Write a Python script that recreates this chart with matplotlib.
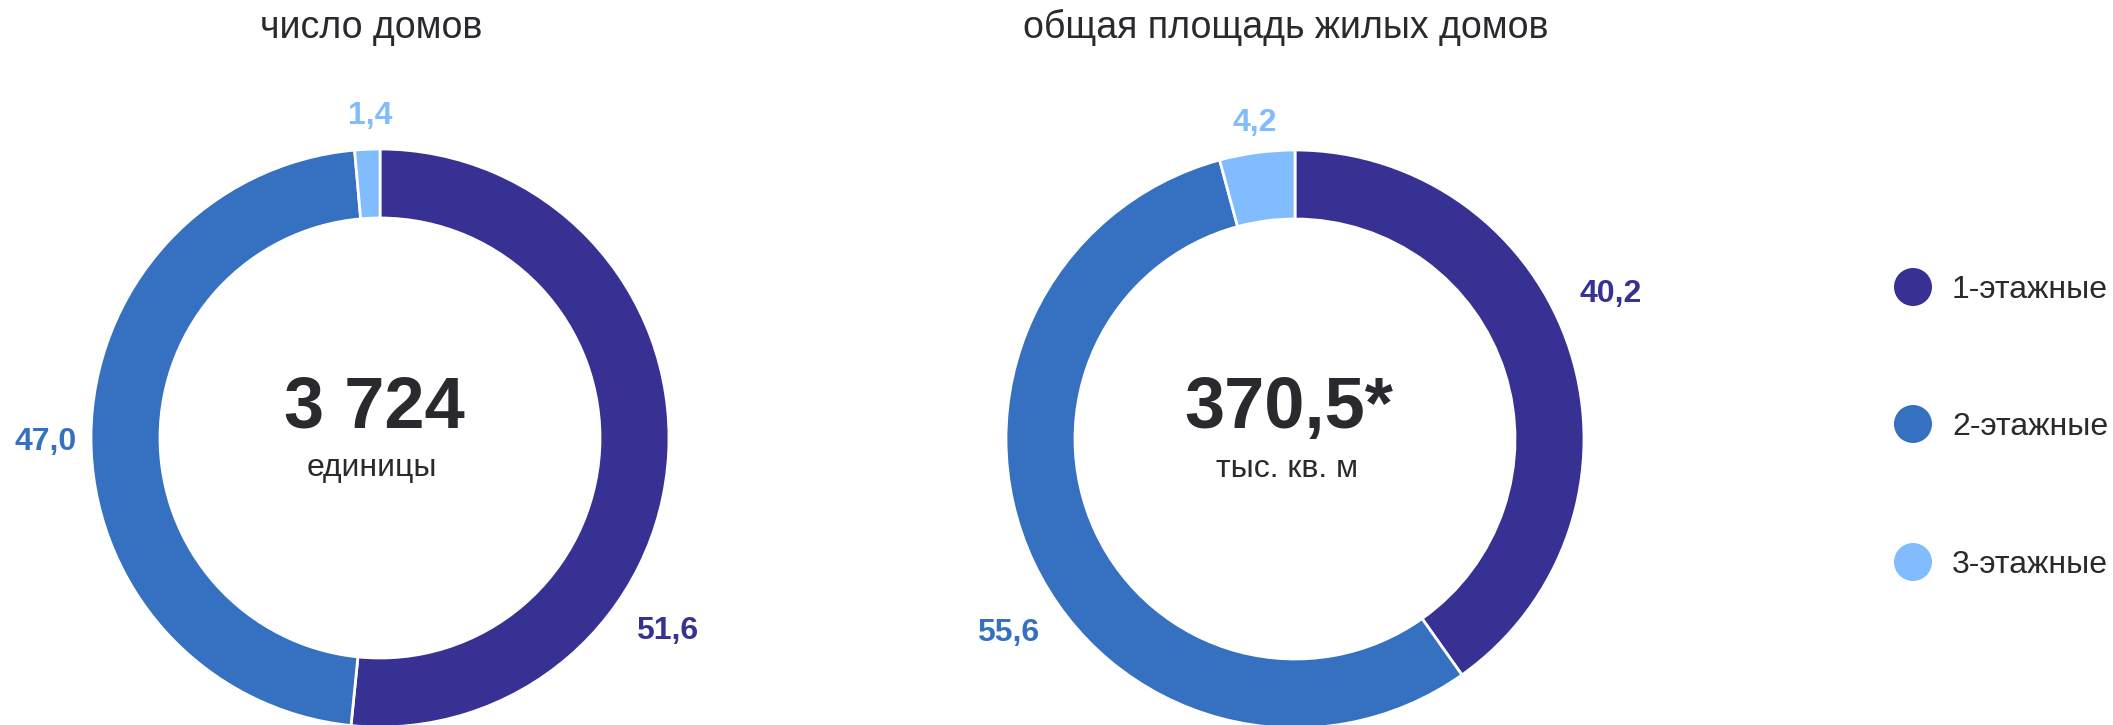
import numpy as np
import matplotlib
matplotlib.use("Agg")
import matplotlib.pyplot as plt
from matplotlib.patches import Circle

# ---------------- data ----------------
categories = ["1-этажные", "2-этажные", "3-этажные"]
houses_share = [51.6, 47.0, 1.4]
area_share = [40.2, 55.6, 4.2]
titles = ["число домов", "общая площадь жилых домов"]
totals = ["3 724", "370,5*"]
units = ["единицы", "тыс. кв. м"]

# ---------------- style / layout ----------------
colors = ["#373194", "#3670C0", "#80BCFE"]
text_color = "#2a2a2e"
W, H = 2113, 725
FONT = "Liberation Sans"

centers = [(380, H - 438), (1295, H - 439)]
R_OUT = 289
RING = 69
# label placement (angle in degrees, distance from centre in px)
label_layout = [
    [(-33.9, 346), (180.7, 334), (91.8, 322)],
    [(24.7, 347), (-145.9, 346), (97.2, 319)],
]

fig = plt.figure(figsize=(W / 100, H / 100), dpi=100)
ax = fig.add_axes([0, 0, 1, 1])

series = [houses_share, area_share]
for i, vals in enumerate(series):
    cx, cy = centers[i]
    ax.pie(vals, colors=colors, radius=R_OUT, center=(cx, cy),
           startangle=90, counterclock=False,
           wedgeprops=dict(width=RING, edgecolor="white", linewidth=2))
    # value labels
    for j, v in enumerate(vals):
        ang, dist = label_layout[i][j]
        a = np.deg2rad(ang)
        ax.text(cx + dist * np.cos(a), cy + dist * np.sin(a),
                f"{v:.1f}".replace(".", ","), color=colors[j],
                fontsize=23, fontweight="bold", family=FONT,
                ha="center", va="center")
    # centre texts
    ax.text(cx - 6, cy + 11, totals[i], fontsize=52, fontweight="bold",
            family=FONT, color=text_color, ha="center", va="baseline")
    ax.text(cx - 8, cy - 38, units[i], fontsize=23, family=FONT,
            color=text_color, ha="center", va="baseline")
    # titles
    ax.text(cx - 9, H - 38, titles[i], fontsize=27, family=FONT,
            color=text_color, ha="center", va="baseline")

# legend
leg_x = 1913
leg_ys = [H - 287, H - 424, H - 562]
for k, name in enumerate(categories):
    ax.add_patch(Circle((leg_x, leg_ys[k]), 19, color=colors[k], lw=0))
    ax.text(leg_x + 39, leg_ys[k] - 11, name, fontsize=23, family=FONT,
            color=text_color, ha="left", va="baseline")

ax.set_xlim(0, W)
ax.set_ylim(0, H)
ax.set_aspect("equal")
ax.axis("off")

fig.savefig("out.png", dpi=100, facecolor="white")
